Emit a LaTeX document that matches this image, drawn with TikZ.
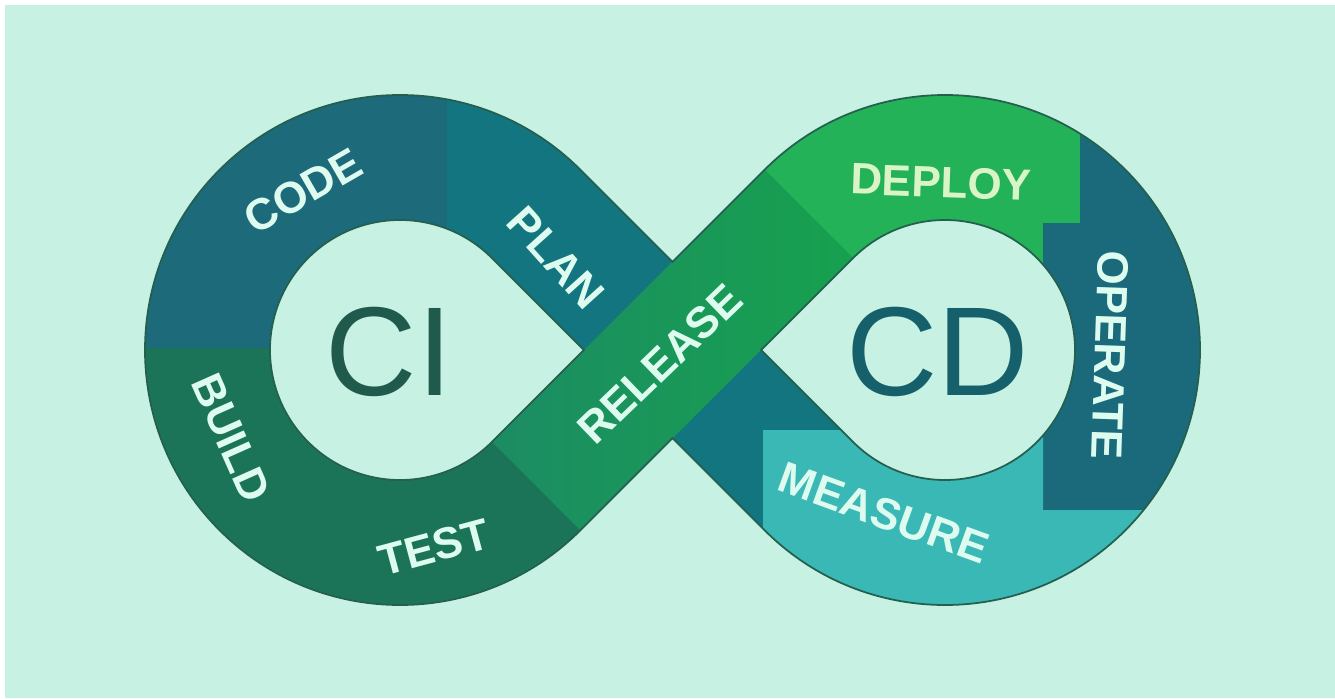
\documentclass[tikz,border=0pt]{standalone}
\usepackage{fontspec}
\setmainfont{Liberation Sans}
\usetikzlibrary{calc}

\definecolor{fondo}{HTML}{C7F2E3}
\definecolor{azulcode}{HTML}{1D6A7A}
\definecolor{tealplan}{HTML}{12757F}
\definecolor{verdebuild}{HTML}{1C7458}
\definecolor{releaseA}{HTML}{1C8C64}
\definecolor{releaseB}{HTML}{17A14E}
\definecolor{verdedeploy}{HTML}{23B257}
\definecolor{azuloperate}{HTML}{1B6A7C}
\definecolor{cianmeasure}{HTML}{3AB8B5}
\definecolor{textoetapa}{HTML}{DDFBEF}
\definecolor{textodeploy}{HTML}{D9F4C6}
\definecolor{textoci}{HTML}{1F5A4C}
\definecolor{textocd}{HTML}{16606C}
\definecolor{bordebanda}{HTML}{24604F}

\tikzstyle{etapa} = [font=\bfseries\fontsize{25}{25}\selectfont, text=textoetapa, inner sep=0pt]
\tikzstyle{sigla} = [font=\fontsize{72}{72}\selectfont, inner sep=0pt]
\tikzstyle{borde} = [draw=bordebanda, line width=1pt, even odd rule]

% contorno del infinito con sus dos huecos
\newcommand{\banda}{%
  ($(lc)+(45:255)$) arc[start angle=45, end angle=315, radius=255]
  -- (nb) -- ($(rc)+(225:255)$) arc[start angle=225, end angle=495, radius=255]
  -- (nt) -- cycle
  (pl) -- ($(lc)+(45:130)$) arc[start angle=45, end angle=315, radius=130] -- cycle
  (pr) -- ($(rc)+(225:130)$) arc[start angle=225, end angle=495, radius=130] -- cycle
}

\begin{document}
\begin{tikzpicture}[x=0.02cm, y=0.02cm]

\useasboundingbox (0,0) rectangle (1335,698);
\fill[white] (0,0) rectangle (1335,698);
\fill[fondo] (5,0) rectangle (1335,693);

% Centros y puntos
\coordinate (lc) at (400,348);
\coordinate (rc) at (945,348);
\coordinate (nt) at (672.5,436.1);
\coordinate (nb) at (672.5,259.9);
\coordinate (pl) at (583.8,348);
\coordinate (pr) at (761.2,348);

% Segmentos de color
\begin{scope}[even odd rule]
\clip \banda;
\fill[verdebuild] (0,0) rectangle (672.5,698);
\fill[azulcode] (0,350) rectangle (447,698);
\fill[tealplan] (447,348) rectangle (672.5,698);
\fill[verdedeploy] (672.5,0) rectangle (1335,698);
\fill[azuloperate] (1080,698) -- (1080,475) -- (1043,475) -- (1043,188) -- (1335,188) -- (1335,698) -- cycle;
\fill[tealplan] ($(lc)+(45:130)$) -- ($(lc)+(45:255)$) -- ($(rc)+(225:130)$) -- ($(rc)+(225:255)$) -- cycle;
\fill[cianmeasure] (763,0) -- (763,268) -- (1043,268) -- (1043,188) -- (1335,188) -- (1335,0) -- cycle;
\shade[left color=releaseA, right color=releaseB] ($(lc)+(-45:130)$) -- ($(lc)+(-45:255)$) -- ($(rc)+(135:130)$) -- ($(rc)+(135:255)$) -- cycle;
\end{scope}
\path[borde] \banda;

% Etiquetas
\node[etapa, rotate=30] (code) at (303,507) {CODE};
\node[etapa, rotate=-48] (plan) at (556,440) {PLAN};
\node[etapa, rotate=-66] (build) at (231,260) {BUILD};
\node[etapa, rotate=15] (test) at (434,151) {TEST};
\node[etapa, rotate=44] (release) at (660,334) {RELEASE};
\node[etapa, rotate=-2, text=textodeploy] (deploy) at (941,516) {DEPLOY};
\node[etapa, rotate=-92] (operate) at (1110,343) {OPERATE};
\node[etapa, rotate=-20] (measure) at (884,185) {MEASURE};

\node[sigla, text=textoci] (ci) at (389,346) {CI};
\node[sigla, text=textocd] (cd) at (938,346) {CD};

\end{tikzpicture}
\end{document}
